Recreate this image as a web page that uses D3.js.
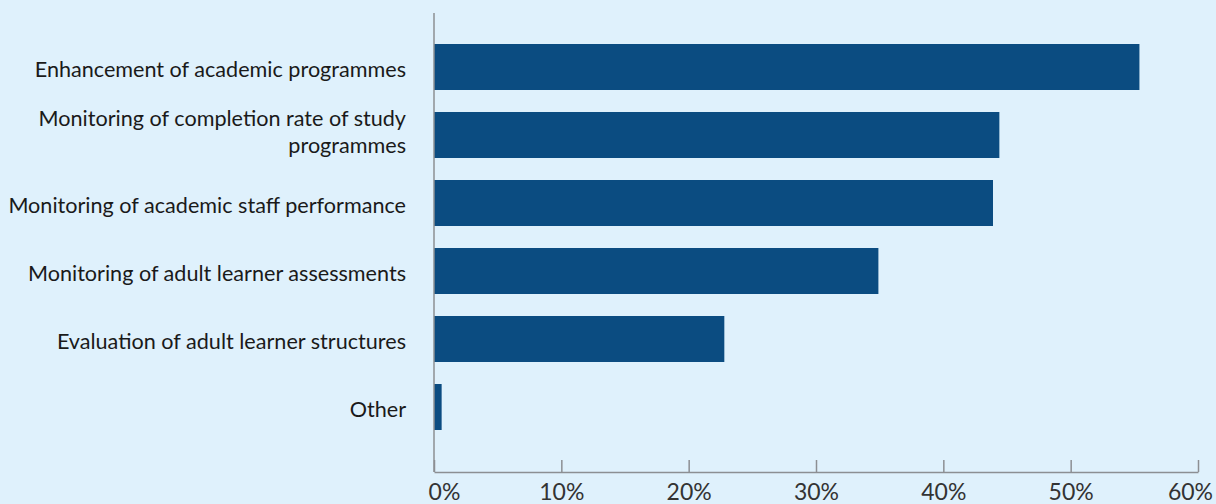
<!DOCTYPE html>
<html>
<head>
<meta charset="utf-8">
<script src="https://cdn.jsdelivr.net/npm/d3@7"></script>
<style>
  html, body { margin: 0; padding: 0; background: #dff1fc; }
  svg { display: block; }
  text { font-family: Lato, "Noto Sans", sans-serif; }
</style>
</head>
<body>
<svg id="chart" width="1216" height="504"></svg>
<script>
// Purposes for which the data is used, share of institutions (%)
const categories = [
  "Enhancement of academic programmes",
  "Monitoring of completion rate of study\nprogrammes",
  "Monitoring of academic staff performance",
  "Monitoring of adult learner assessments",
  "Evaluation of adult learner structures",
  "Other"
];
const values = [55.4, 44.4, 43.9, 34.9, 22.8, 0.6];
const tickValues = [0, 10, 20, 30, 40, 50, 60];
const tickLabels = ["0%", "10%", "20%", "30%", "40%", "50%", "60%"];

const svg = d3.select("#chart");
const W = 1216, H = 504;
svg.append("rect").attr("width", W).attr("height", H).attr("fill", "#dff1fc");

const x = d3.scaleLinear().domain([0, 60]).range([434, 1198]);
const y = d3.scaleBand()
  .domain(categories)
  .range([33, 441])
  .paddingInner(22 / 68)
  .paddingOuter(11 / 68);

const axisColor = "#8c8f93";
const axisTop = 13, axisBottom = 472;

// bars
svg.append("g").selectAll("rect")
  .data(categories)
  .join("rect")
  .attr("x", x(0))
  .attr("y", d => y(d))
  .attr("width", (d, i) => x(values[i]) - x(0))
  .attr("height", y.bandwidth())
  .attr("fill", "#0b4c81");

// vertical axis line
svg.append("line")
  .attr("x1", x(0)).attr("x2", x(0))
  .attr("y1", axisTop).attr("y2", axisBottom)
  .attr("stroke", axisColor).attr("stroke-width", 1.5);

// bottom axis
const xAxis = d3.axisBottom(x)
  .tickValues(tickValues)
  .tickSize(12)
  .tickSizeOuter(0)
  .tickFormat((d, i) => tickLabels[i]);

const gx = svg.append("g")
  .attr("transform", `translate(0,${axisBottom})`)
  .call(xAxis);
gx.select(".domain").attr("stroke", axisColor).attr("stroke-width", 1.5);
gx.selectAll(".tick line")
  .attr("y1", -12).attr("y2", 0)
  .attr("stroke", axisColor).attr("stroke-width", 1.5);
gx.selectAll(".tick text")
  .attr("y", 28)
  .attr("dy", 0)
  .attr("fill", "#333")
  .style("font-size", "23px")
  .attr("dx", (d, i) => i === 0 ? 10 : (i === tickValues.length - 1 ? -8 : 0));

// category labels, right-aligned against the axis
const labels = svg.append("g").selectAll("text")
  .data(categories)
  .join("text")
  .attr("text-anchor", "end")
  .attr("fill", "#1a1a1a")
  .style("font-size", "21.6px");

labels.each(function (d) {
  const lines = d.split("\n");
  const cy = y(d) + y.bandwidth() / 2;
  const t = d3.select(this);
  if (lines.length === 1) {
    t.append("tspan").attr("x", 406).attr("y", cy + 10).text(lines[0]);
  } else {
    lines.forEach((ln, k) => {
      t.append("tspan").attr("x", 406).attr("y", cy - 9 + k * 27).text(ln);
    });
  }
});
</script>
</body>
</html>
